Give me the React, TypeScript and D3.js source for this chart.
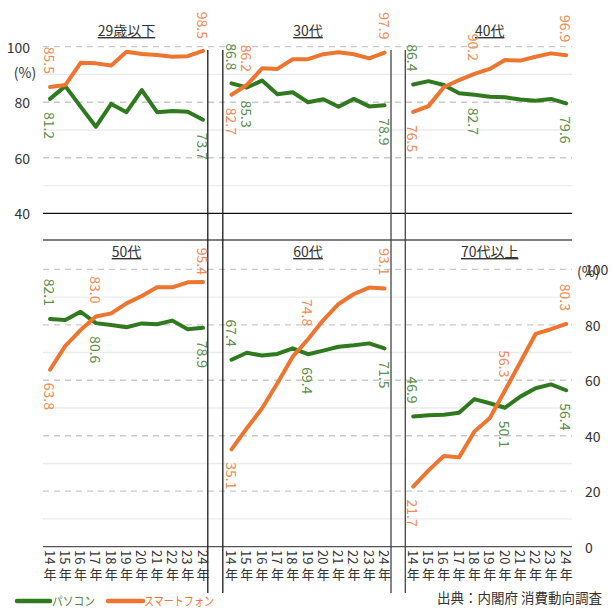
import React from 'react';
import * as d3 from 'd3';

const years = ['14年', '15年', '16年', '17年', '18年', '19年', '20年', '21年', '22年', '23年', '24年'];
const titles = ['29歳以下', '30代', '40代', '50代', '60代', '70代以上'];

const pc29 = [81.2, 85.8, 78.4, 71.2, 79.4, 76.4, 84.4, 76.4, 76.8, 76.6, 73.7];
const sp29 = [85.5, 86.2, 94.2, 94.0, 93.2, 98.2, 97.4, 97.0, 96.4, 96.6, 98.5];
const pc30 = [86.8, 85.3, 87.8, 82.9, 83.6, 80.0, 81.1, 78.4, 81.2, 78.5, 78.9];
const sp30 = [82.7, 86.2, 92.2, 92.0, 95.5, 95.5, 97.3, 98.0, 97.3, 95.8, 97.9];
const pc40 = [86.4, 87.6, 86.2, 83.2, 82.7, 82.0, 81.8, 81.0, 80.5, 81.2, 79.6];
const sp40 = [76.5, 78.6, 85.4, 88.0, 90.2, 92.0, 95.2, 95.0, 96.4, 97.6, 96.9];
const pc50 = [82.1, 81.7, 84.7, 80.6, 79.9, 79.1, 80.5, 80.2, 81.5, 78.4, 78.9];
const sp50 = [63.8, 72.4, 78.1, 83.0, 84.1, 87.7, 90.4, 93.5, 93.5, 95.3, 95.4];
const pc60 = [67.4, 69.9, 68.9, 69.5, 71.5, 69.4, 70.7, 72.1, 72.6, 73.3, 71.5];
const sp60 = [35.1, 42.7, 49.9, 58.9, 68.5, 74.8, 81.7, 87.5, 91.1, 93.4, 93.1];
const pc70 = [46.9, 47.4, 47.6, 48.3, 53.2, 51.7, 50.1, 54.1, 57.1, 58.5, 56.4];
const sp70 = [21.7, 27.5, 32.7, 32.2, 41.5, 46.3, 56.3, 66.5, 76.7, 78.4, 80.3];

const pcSeries = [pc29, pc30, pc40, pc50, pc60, pc70];
const spSeries = [sp29, sp30, sp40, sp50, sp60, sp70];
const midLabelIndex = [-1, 1, 4, 3, 5, 6];

const topTicks = [40, 60, 80, 100];
const bottomTicks = [0, 20, 40, 60, 80, 100];

const GREEN = '#2f7a1f';
const ORANGE = '#ed7530';
const GREEN_LBL = '#5b8f4a';
const ORANGE_LBL = '#f08c55';
const FONT = '"Noto Sans CJK JP", "Noto Sans", sans-serif';

const colX0 = [50, 231.5, 413.2];
const colW = 153;
const gridX0 = 43;
const gridX1 = 572;

const yTop = d3.scaleLinear().domain([40, 100]).range([213.3, 46.7]);
const yBot = d3.scaleLinear().domain([0, 100]).range([546.7, 269.3]);

export default function App() {
  const panels = titles.map((t, i) => {
    const col = i % 3;
    const row = Math.floor(i / 3);
    const x = d3.scalePoint<string>().domain(years).range([colX0[col], colX0[col] + colW]);
    const y = row === 0 ? yTop : yBot;
    return { t, i, col, row, x, y, pc: pcSeries[i], sp: spSeries[i] };
  });

  const line = (x: any, y: any) =>
    d3
      .line<number>()
      .x((_, k) => x(years[k]))
      .y((v) => y(v));

  const topGridVals = d3.range(50, 101, 10);
  const botGridVals = d3.range(10, 101, 10);

  return (
    <svg width={614} height={615} style={{ position: 'absolute', left: 0, top: 0, background: '#fff' }} fontFamily={FONT}>
      <rect width={614} height={615} fill="#fff" />
      {topGridVals.map((v) => (
        <line
          key={'tg' + v}
          x1={gridX0}
          x2={gridX1}
          y1={yTop(v)}
          y2={yTop(v)}
          stroke={v % 20 === 0 ? '#c9c9c9' : '#ebebeb'}
          strokeWidth={1.3}
          strokeDasharray={v % 20 === 0 ? '6,5' : undefined}
        />
      ))}
      {botGridVals.map((v) => (
        <line
          key={'bg' + v}
          x1={gridX0}
          x2={gridX1}
          y1={yBot(v)}
          y2={yBot(v)}
          stroke={v % 20 === 0 ? '#c9c9c9' : '#ebebeb'}
          strokeWidth={1.3}
          strokeDasharray={v % 20 === 0 ? '6,5' : undefined}
        />
      ))}
      <line x1={gridX0} x2={gridX1} y1={yTop(40)} y2={yTop(40)} stroke="#111" strokeWidth={1.3} />
      <line x1={gridX0} x2={gridX1} y1={240} y2={240} stroke="#555" strokeWidth={1.3} />
      <line x1={gridX0} x2={gridX1} y1={yBot(0)} y2={yBot(0)} stroke="#555" strokeWidth={1.3} />
      {[207.8, 222.8].map((vx) => (
        <line key={'v' + vx} x1={vx} x2={vx} y1={50} y2={593} stroke="#1a1a1a" strokeWidth={1.3} />
      ))}
      {[391, 405.3].map((vx) => (
        <line key={'v' + vx} x1={vx} x2={vx} y1={50} y2={593} stroke="#444" strokeWidth={1.3} />
      ))}

      {topTicks.map((v) => (
        <text key={'lt' + v} x={30} y={yTop(v)} textAnchor="end" dominantBaseline="central" fontSize={14} fill="#333">
          {v}
        </text>
      ))}
      <text x={25} y={72} textAnchor="middle" dominantBaseline="central" fontSize={14} fill="#333">
        (%)
      </text>
      {bottomTicks.map((v) => (
        <text key={'rt' + v} x={585} y={yBot(v)} textAnchor="start" dominantBaseline="central" fontSize={14} fill="#333">
          {v}
        </text>
      ))}
      <text x={577} y={271} textAnchor="start" dominantBaseline="central" fontSize={14} fill="#333">
        (%)
      </text>

      {panels.map((p) => {
        const titleY = p.row === 0 ? 36 : 257;
        const top = p.row === 0 ? 8 : 244;
        const cx = colX0[p.col] + colW / 2;
        const lg = line(p.x, p.y);
        const labelIdx = [0, p.i === 0 ? -1 : midLabelIndex[p.i], years.length - 1].filter((k) => k >= 0);
        return (
          <g key={p.t}>
            <text x={cx} y={titleY} textAnchor="middle" fontSize={14} fill="#333" style={{ textDecoration: 'underline' }}>
              {p.t}
            </text>
            <path d={lg(p.pc) || ''} fill="none" stroke={GREEN} strokeWidth={4} strokeLinejoin="round" strokeLinecap="round" />
            <path d={lg(p.sp) || ''} fill="none" stroke={ORANGE} strokeWidth={4} strokeLinejoin="round" strokeLinecap="round" />
            {labelIdx.map((k) =>
              [
                { v: p.pc[k], other: p.sp[k], c: GREEN_LBL, s: 'g' },
                { v: p.sp[k], other: p.pc[k], c: ORANGE_LBL, s: 'o' },
              ].map((d) => {
                const px = p.x(years[k]) as number;
                const py = p.y(d.v);
                const above = d.v >= d.other;
                let ly = above ? py - 13 : py + 13;
                if (above) ly = Math.max(ly, top + 31);
                return (
                  <text
                    key={d.s + k}
                    transform={`translate(${px},${ly}) rotate(90)`}
                    textAnchor={above ? 'end' : 'start'}
                    dominantBaseline="central"
                    fontSize={14}
                    fill={d.c}
                  >
                    {d.v.toFixed(1)}
                  </text>
                );
              })
            )}
            {p.row === 1 &&
              years.map((yr) => {
                const px = p.x(yr) as number;
                return (
                  <g key={'x' + yr}>
                    <text
                      transform={`translate(${px},550) rotate(90)`}
                      textAnchor="start"
                      dominantBaseline="central"
                      fontSize={13}
                      fill="#333"
                    >
                      {yr.slice(0, 2)}
                    </text>
                    <text x={px} y={579} textAnchor="middle" fontSize={13} fill="#333">
                      {yr.slice(2)}
                    </text>
                  </g>
                );
              })}
          </g>
        );
      })}

      <line x1={17} x2={50} y1={601} y2={601} stroke={GREEN} strokeWidth={4.5} strokeLinecap="round" />
      <text x={52} y={606} fontSize={12.5} fill="#4d8a3c" textLength={43} lengthAdjust="spacingAndGlyphs">
        パソコン
      </text>
      <line x1={108} x2={143} y1={601} y2={601} stroke={ORANGE} strokeWidth={4.5} strokeLinecap="round" />
      <text x={144} y={606} fontSize={12.5} fill="#ee7a3a" textLength={70} lengthAdjust="spacingAndGlyphs">
        スマートフォン
      </text>
      <text x={602} y={603} textAnchor="end" fontSize={14} fill="#333" textLength={165} lengthAdjust="spacingAndGlyphs">
        出典：内閣府 消費動向調査
      </text>
    </svg>
  );
}
